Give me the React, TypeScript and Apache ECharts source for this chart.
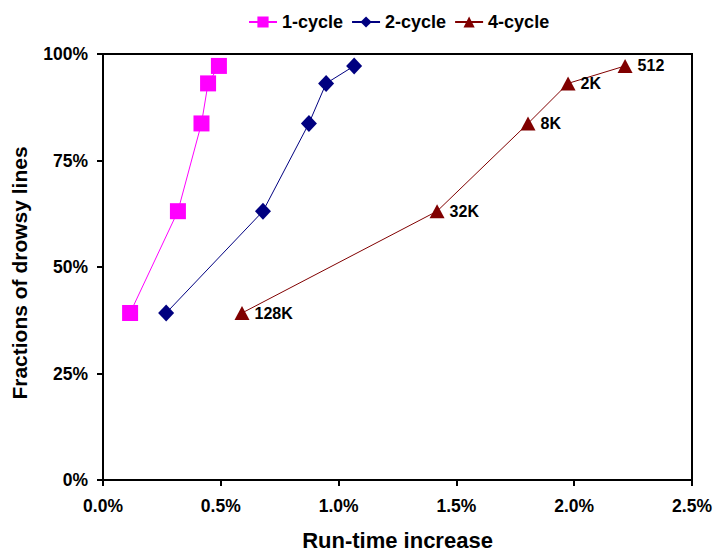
import React, { useEffect, useRef } from "react";
import * as echarts from "echarts";

const fractions = [39.2, 63.1, 83.7, 93.1, 97.2];
const oneCycle = [0.115, 0.318, 0.418, 0.446, 0.492];
const twoCycle = [0.268, 0.679, 0.874, 0.947, 1.066];
const fourCycle = [0.59, 1.418, 1.804, 1.974, 2.216];
const sizeLabels = ["128K", "32K", "8K", "2K", "512"];
const xTicks = [0, 0.5, 1, 1.5, 2, 2.5];
const yTicks = [0, 25, 50, 75, 100];

const FONT = "Liberation Sans, Arial, sans-serif";

export default function App() {
  const ref = useRef<HTMLDivElement>(null);
  useEffect(() => {
    if (!ref.current) return;
    const chart = echarts.init(ref.current, null, { renderer: "svg" });
    const pts = (xs: number[]) => xs.map((x, i) => [x, fractions[i]]);
    chart.setOption({
      animation: false,
      textStyle: { fontFamily: FONT },
      legend: {
        top: 8,
        left: 243,
        itemWidth: 28,
        itemHeight: 14,
        itemGap: 8,
        textStyle: { fontFamily: FONT, fontWeight: "bold", fontSize: 18, color: "#000" },
        data: ["1-cycle", "2-cycle", "4-cycle"],
      },
      grid: {
        left: 103,
        right: 23,
        top: 54,
        bottom: 72,
        outerBoundsMode: "none",
        containLabel: false,
        show: true,
        borderColor: "#000",
        borderWidth: 2,
      },
      xAxis: {
        type: "value",
        min: xTicks[0],
        max: xTicks[xTicks.length - 1],
        interval: 0.5,
        name: "Run-time increase",
        nameLocation: "middle",
        nameGap: 49,
        nameTextStyle: { fontFamily: FONT, fontWeight: "bold", fontSize: 22, color: "#000" },
        axisLine: { lineStyle: { color: "#000", width: 2 } },
        axisTick: { show: true, length: 6, lineStyle: { color: "#000", width: 2 } },
        splitLine: { show: false },
        axisLabel: {
          margin: 17,
          fontFamily: FONT,
          fontWeight: "bold",
          fontSize: 17.5,
          color: "#000",
          formatter: (v: number) => v.toFixed(1) + "%",
        },
      },
      yAxis: {
        type: "value",
        min: yTicks[0],
        max: yTicks[yTicks.length - 1],
        interval: 25,
        name: "Fractions of drowsy lines",
        nameLocation: "middle",
        nameGap: 73,
        nameTextStyle: {
          fontFamily: FONT,
          fontWeight: "bold",
          fontSize: 21,
          color: "#000",
          padding: [0, 12, 0, 0],
        },
        axisLine: { show: true, lineStyle: { color: "#000", width: 2 } },
        axisTick: { show: true, length: 6, lineStyle: { color: "#000", width: 2 } },
        splitLine: { show: false },
        axisLabel: {
          margin: 15,
          fontFamily: FONT,
          fontWeight: "bold",
          fontSize: 17.5,
          color: "#000",
          formatter: (v: number) => v + "%",
        },
      },
      series: [
        {
          name: "1-cycle",
          type: "line",
          data: pts(oneCycle),
          symbol: "rect",
          symbolSize: 16,
          color: "#FF00FF",
          lineStyle: { color: "#FF00FF", width: 1 },
          itemStyle: { color: "#FF00FF" },
        },
        {
          name: "2-cycle",
          type: "line",
          data: pts(twoCycle),
          symbol: "diamond",
          symbolSize: [16, 17],
          color: "#000080",
          lineStyle: { color: "#000080", width: 1 },
          itemStyle: { color: "#000080" },
        },
        {
          name: "4-cycle",
          type: "line",
          data: pts(fourCycle),
          symbol: "triangle",
          symbolSize: [15, 14],
          color: "#800000",
          lineStyle: { color: "#800000", width: 1 },
          itemStyle: { color: "#800000" },
          label: {
            show: true,
            position: "right",
            distance: 5,
            fontFamily: FONT,
            fontWeight: "bold",
            fontSize: 16,
            color: "#000",
            formatter: (p: any) => sizeLabels[p.dataIndex],
          },
        },
      ],
    });
    return () => chart.dispose();
  }, []);
  return <div ref={ref} style={{ width: 715, height: 552, position: "absolute", left: 0, top: 0 }} />;
}
